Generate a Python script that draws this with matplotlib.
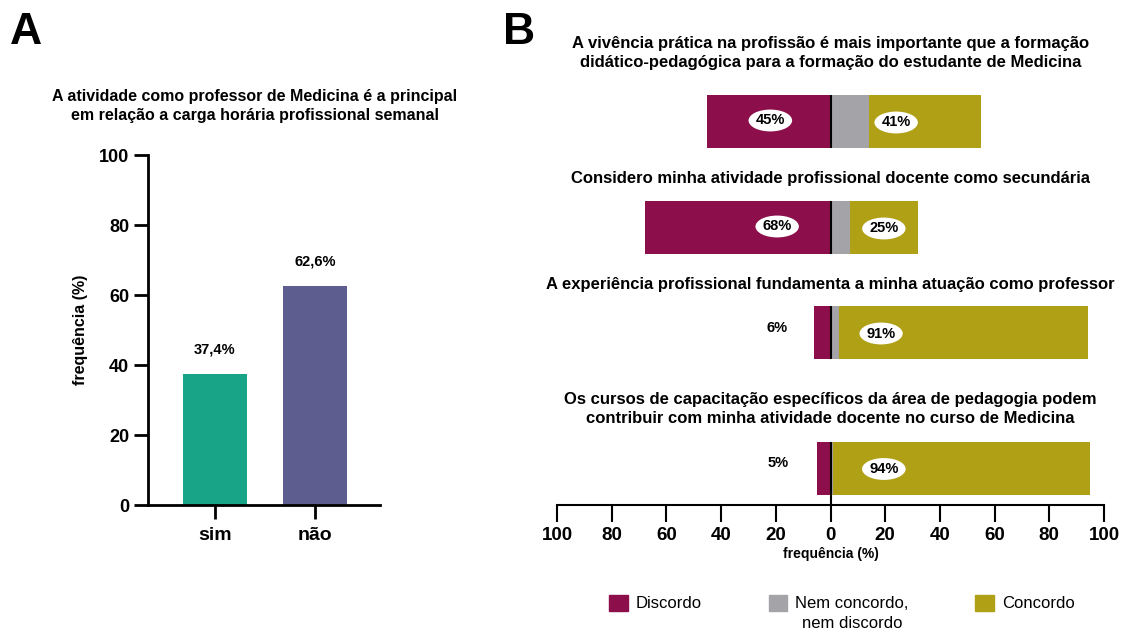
import matplotlib.pyplot as plt
from matplotlib.patches import Patch

plt.rcParams['font.family'] = ['Liberation Sans', 'DejaVu Sans']

# painel A
opcoes = ['sim', 'não']
freq_a = [37.4, 62.6]
rotulos_a = ['37,4%', '62,6%']
cores_a = ['#17a487', '#5d5d8f']
titulo_a = ('A atividade como professor de Medicina é a principal\n'
            'em relação a carga horária profissional semanal')

# painel B
perguntas = [
    'A vivência prática na profissão é mais importante que a formação\n'
    'didático-pedagógica para a formação do estudante de Medicina',
    'Considero minha atividade profissional docente como secundária',
    'A experiência profissional fundamenta a minha atuação como professor',
    'Os cursos de capacitação específicos da área de pedagogia podem\n'
    'contribuir com minha atividade docente no curso de Medicina',
]
discordo = [45, 68, 6, 5]
neutro = [14, 7, 3, 1]
concordo = [41, 25, 91, 94]
rot_disc = ['45%', '68%', '6%', '5%']
rot_conc = ['41%', '25%', '91%', '94%']
cor_disc = '#8c0f4b'
cor_neutro = '#a4a4a8'
cor_conc = '#b0a016'

fig = plt.figure(figsize=(11.23, 6.32), dpi=100)
W, H = 1123, 632

# ---- A ----
axA = fig.add_axes([148/W, 127/H, 232/W, 350/H])
axA.bar(range(len(opcoes)), freq_a, width=0.64, color=cores_a)
axA.set_xlim(-0.67, 1.65)
axA.set_ylim(0, 100)
axA.set_yticks(range(0, 101, 20))
axA.set_xticks(range(len(opcoes)))
axA.set_xticklabels(opcoes)
for s in ['top', 'right']:
    axA.spines[s].set_visible(False)
for s in ['left', 'bottom']:
    axA.spines[s].set_linewidth(2)
axA.tick_params(axis='both', length=10, width=2, labelsize=13)
axA.tick_params(axis='x', pad=6, labelsize=14)
for lab in axA.get_xticklabels() + axA.get_yticklabels():
    lab.set_fontweight('bold')
for i, v in enumerate(freq_a):
    axA.text(i, v + 7, rotulos_a[i], ha='center', va='center',
             fontsize=10.5, fontweight='bold')
axA.set_ylabel('frequência (%)', fontsize=11.5, fontweight='bold')
axA.yaxis.set_label_coords(-0.26, 0.5)
fig.text(255/W, 1 - 106/H, titulo_a, ha='center', va='center',
         fontsize=11.5, fontweight='bold', linespacing=1.4)
fig.text(10/W, 1 - 32/H, 'A', fontsize=32, fontweight='bold', va='center')

# ---- B ----
axB = fig.add_axes([557/W, 127/H, 547/W, 410/H])
ypos = [383.5, 277.5, 172.5, 37]
ytit = [452, 327, 220, 96]
alt = 53
axB.barh(ypos, [-d for d in discordo], height=alt, color=cor_disc, label='Discordo')
axB.barh(ypos, neutro, height=alt, color=cor_neutro, label='Nem concordo,')
axB.barh(ypos, concordo, left=neutro, height=alt, color=cor_conc, label='Concordo')
for y in ypos:
    axB.vlines(0, y - alt/2, y + alt/2, color='black', lw=1.5)
axB.vlines(0, 0, ypos[-1] - alt/2, color='black', lw=1.5)

pos_disc = [-22, -19.5, -19.5, -19]
pos_conc = [24, 19.5, 18.5, 19.5]
for i in range(len(perguntas)):
    y = ypos[i]
    if discordo[i] > 20:
        axB.text(pos_disc[i], y + 1, rot_disc[i], ha='center', va='center',
                 fontsize=10.5, fontweight='bold',
                 bbox=dict(boxstyle='ellipse,pad=0.05', fc='white', ec='none'))
    else:
        axB.text(pos_disc[i], y + 5, rot_disc[i], ha='center', va='center',
                 fontsize=10.5, fontweight='bold')
    axB.text(pos_conc[i], y - 1, rot_conc[i], ha='center', va='center',
             fontsize=10.5, fontweight='bold',
             bbox=dict(boxstyle='ellipse,pad=0.05', fc='white', ec='none'))
    axB.text(0, ytit[i], perguntas[i], ha='center', va='center',
             fontsize=12, fontweight='bold', linespacing=1.35, clip_on=False)

axB.set_xlim(-100, 100)
axB.set_ylim(0, 410)
axB.set_yticks([])
for s in ['top', 'right', 'left']:
    axB.spines[s].set_visible(False)
axB.spines['bottom'].set_linewidth(1.5)
axB.set_xticks(range(-100, 101, 20))
axB.set_xticklabels([str(abs(t)) for t in range(-100, 101, 20)])
axB.tick_params(axis='x', length=12, width=1.5, labelsize=13.5, pad=4)
for lab in axB.get_xticklabels():
    lab.set_fontweight('bold')
axB.set_xlabel('frequência (%)', fontsize=10, fontweight='bold', labelpad=2)

handles = [Patch(color=cor_disc), Patch(color=cor_neutro), Patch(color=cor_conc)]
fig.legend(handles, ['Discordo', 'Nem concordo,', 'Concordo'],
           loc='center', bbox_to_anchor=(842/W, 1 - 603/H), ncol=3,
           frameon=False, handlelength=1.1, handleheight=1.1,
           handletextpad=0.5, columnspacing=4.0,
           prop={'size': 12})
fig.text(852/W, 1 - 624/H, 'nem discordo', ha='center', va='center',
         fontsize=12)
fig.text(503/W, 1 - 32/H, 'B', fontsize=32, fontweight='bold', va='center')

fig.savefig('out.png', dpi=100)
